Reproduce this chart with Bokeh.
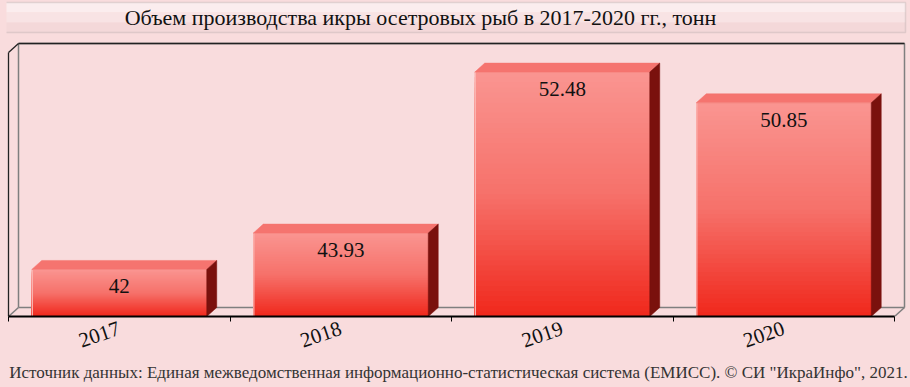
from bokeh.plotting import figure
from bokeh.models import (Range1d, FixedTicker, Label, BoxAnnotation,
                          GlobalInlineStyleSheet)
from bokeh.core.properties import value
from bokeh.embed import file_html
from bokeh.resources import INLINE

# ---- data ----
categories = ["2017", "2018", "2019", "2020"]
values = [42, 43.93, 52.48, 50.85]
value_labels = ["42", "43.93", "52.48", "50.85"]
title_text = "Объем производства икры осетровых рыб в 2017-2020 гг., тонн"
source_text = ('Источник данных: Единая межведомственная информационно-статистическая '
               'система (ЕМИСС). © СИ "ИкраИнфо", 2021.')

# ---- geometry / style ----
BG = "#F9DCDD"
FIG_W, FIG_H = 910, 387
LEFT_BORDER = 6
BOTTOM_BORDER = 71
FRAME_H = FIG_H - BOTTOM_BORDER          # frame reaches the top of the figure
PX_PER_CAT = 221.5
Y0, Y_WALL = 39.5, 54.0                  # value-axis min / max (back wall top)
PX_PER_UNIT = 273 / (Y_WALL - Y0)
Y1 = Y0 + FRAME_H / PX_PER_UNIT
X0 = -0.5 - 2.0 / PX_PER_CAT
X1 = X0 + (FIG_W - LEFT_BORDER) / PX_PER_CAT
DX = 10 / PX_PER_CAT       # 3D depth offset (x) in data units
DY = 9 / PX_PER_UNIT       # 3D depth offset (y) in data units
BAR_HALF = 0.395
SERIF = "Liberation Serif"

p = figure(width=FIG_W, height=FIG_H, output_backend="svg", toolbar_location=None,
           x_range=Range1d(X0, X1), y_range=Range1d(Y0, Y1),
           min_border_left=LEFT_BORDER, min_border_right=0,
           min_border_top=0, min_border_bottom=BOTTOM_BORDER,
           background_fill_color=BG, border_fill_color=BG, outline_line_color=None)
p.stylesheets.append(GlobalInlineStyleSheet(css="body{background-color:%s;}" % BG))
p.grid.visible = False
p.yaxis.visible = False

# ---- axis (category labels + source line as the axis label) ----
n = len(categories)
xs_idx = list(range(n))
ax = p.xaxis[0]
ax.ticker = FixedTicker(ticks=xs_idx, minor_ticks=[i - 0.5 for i in range(n + 1)])
ax.bounds = (-0.5, n - 0.5)
ax.major_label_overrides = {i: c for i, c in enumerate(categories)}
ax.major_label_orientation = 0.33
ax.major_label_text_font = SERIF
ax.major_label_text_font_size = "21px"
ax.major_label_text_color = "#111111"
ax.major_label_standoff = 6
ax.major_tick_in = 0
ax.major_tick_out = 0
ax.minor_tick_in = 0
ax.minor_tick_out = 5
ax.minor_tick_line_color = "black"
ax.axis_line_color = "black"
ax.axis_line_width = 2
ax.axis_label = source_text
ax.axis_label_text_font = SERIF
ax.axis_label_text_font_size = "17px"
ax.axis_label_text_font_style = "normal"
ax.axis_label_text_color = "#333333"
ax.axis_label_standoff = 6

# ---- back wall / floor lines ----
left, right = -0.5, n - 0.5
p.multi_line(
    xs=[[left + DX, left + DX], [left + DX, right + DX], [left + DX, right + DX],
        [left, left + DX], [right, right + DX], [right + DX, right + DX]],
    ys=[[Y0 + DY, Y_WALL], [Y0 + DY, Y0 + DY], [Y_WALL, Y_WALL],
        [Y0, Y0 + DY], [Y0, Y0 + DY], [Y0 + DY, Y_WALL]],
    line_color="#7f7f7f", line_width=1.5)
p.multi_line(xs=[[left, left], [left, left + DX], [left + DX, right + DX]],
             ys=[[Y0, Y_WALL - DY], [Y_WALL - DY, Y_WALL], [Y_WALL, Y_WALL]],
             line_color="#222222", line_width=1.3)

# ---- 3D bars ----
def mix(c1, c2, t):
    a = [int(c1[i:i + 2], 16) for i in (1, 3, 5)]
    b = [int(c2[i:i + 2], 16) for i in (1, 3, 5)]
    return "#%02x%02x%02x" % tuple(round(a[k] + (b[k] - a[k]) * t) for k in range(3))

STOPS = [(0.0, "#FA9591"), (0.5, "#F6716A"), (1.0, "#F0271B")]

def grad(t):
    for (t0, c0), (t1, c1) in zip(STOPS[:-1], STOPS[1:]):
        if t <= t1:
            return mix(c0, c1, (t - t0) / (t1 - t0))
    return STOPS[-1][1]

# gradient front faces: nested quads, tallest first (no seams)
NB = 48
qb, qt, ql, qr, qc = [], [], [], [], []
for k in range(NB, 0, -1):
    for i, v in enumerate(values):
        h = v - Y0
        qb.append(Y0)
        qt.append(Y0 + h * k / NB)
        ql.append(i - BAR_HALF)
        qr.append(i + BAR_HALF)
        qc.append(grad(1 - (k - 0.5) / NB))
p.quad(left=ql, right=qr, bottom=qb, top=qt, fill_color=qc, line_color=None)

# thin highlight on the left edge of the front face
p.segment(x0=[i - BAR_HALF + 0.6 / PX_PER_CAT for i in xs_idx], y0=[Y0] * n,
          x1=[i - BAR_HALF + 0.6 / PX_PER_CAT for i in xs_idx], y1=values,
          line_color="#FBB5B1", line_width=1.2)

# top faces
p.patches(xs=[[i - BAR_HALF, i + BAR_HALF, i + BAR_HALF + DX, i - BAR_HALF + DX] for i in xs_idx],
          ys=[[v, v, v + DY, v + DY] for v in values],
          fill_color="#F5746F", line_color="#F5746F", line_width=0.5)
# side faces
p.patches(xs=[[i + BAR_HALF, i + BAR_HALF + DX, i + BAR_HALF + DX, i + BAR_HALF] for i in xs_idx],
          ys=[[Y0, Y0 + DY, v + DY, v] for v in values],
          fill_color="#7A110D", line_color="#7A110D", line_width=0.5)

# value labels
p.text(x=xs_idx, y=values, text=value_labels, y_offset=17,
       text_align="center", text_baseline="middle",
       text_font=value(SERIF), text_font_size="21px", text_color="#111111")

# ---- title box + title (inside the frame, above the back wall) ----
for (t, b, c) in [(314, 304, "#FBEDEE"), (304, 294, "#F8E3E4"), (294, 284, "#F4D8D9")]:
    p.add_layout(BoxAnnotation(left=-4, right=FIG_W - LEFT_BORDER - 5, top=t, bottom=b,
                               left_units="screen", right_units="screen",
                               top_units="screen", bottom_units="screen",
                               fill_color=c, fill_alpha=1, line_color=None))
p.add_layout(BoxAnnotation(left=-4, right=FIG_W - LEFT_BORDER - 5, top=314, bottom=284,
                           left_units="screen", right_units="screen",
                           top_units="screen", bottom_units="screen",
                           fill_alpha=0, line_color="#A99E9F", line_width=1.5))
p.add_layout(Label(x=420 - LEFT_BORDER, y=FRAME_H - 17, x_units="screen", y_units="screen",
                   text=title_text, text_align="center", text_baseline="middle",
                   text_font=SERIF, text_font_size="22px", text_color="#111111"))

open("out.html", "w").write(file_html(p, INLINE))
